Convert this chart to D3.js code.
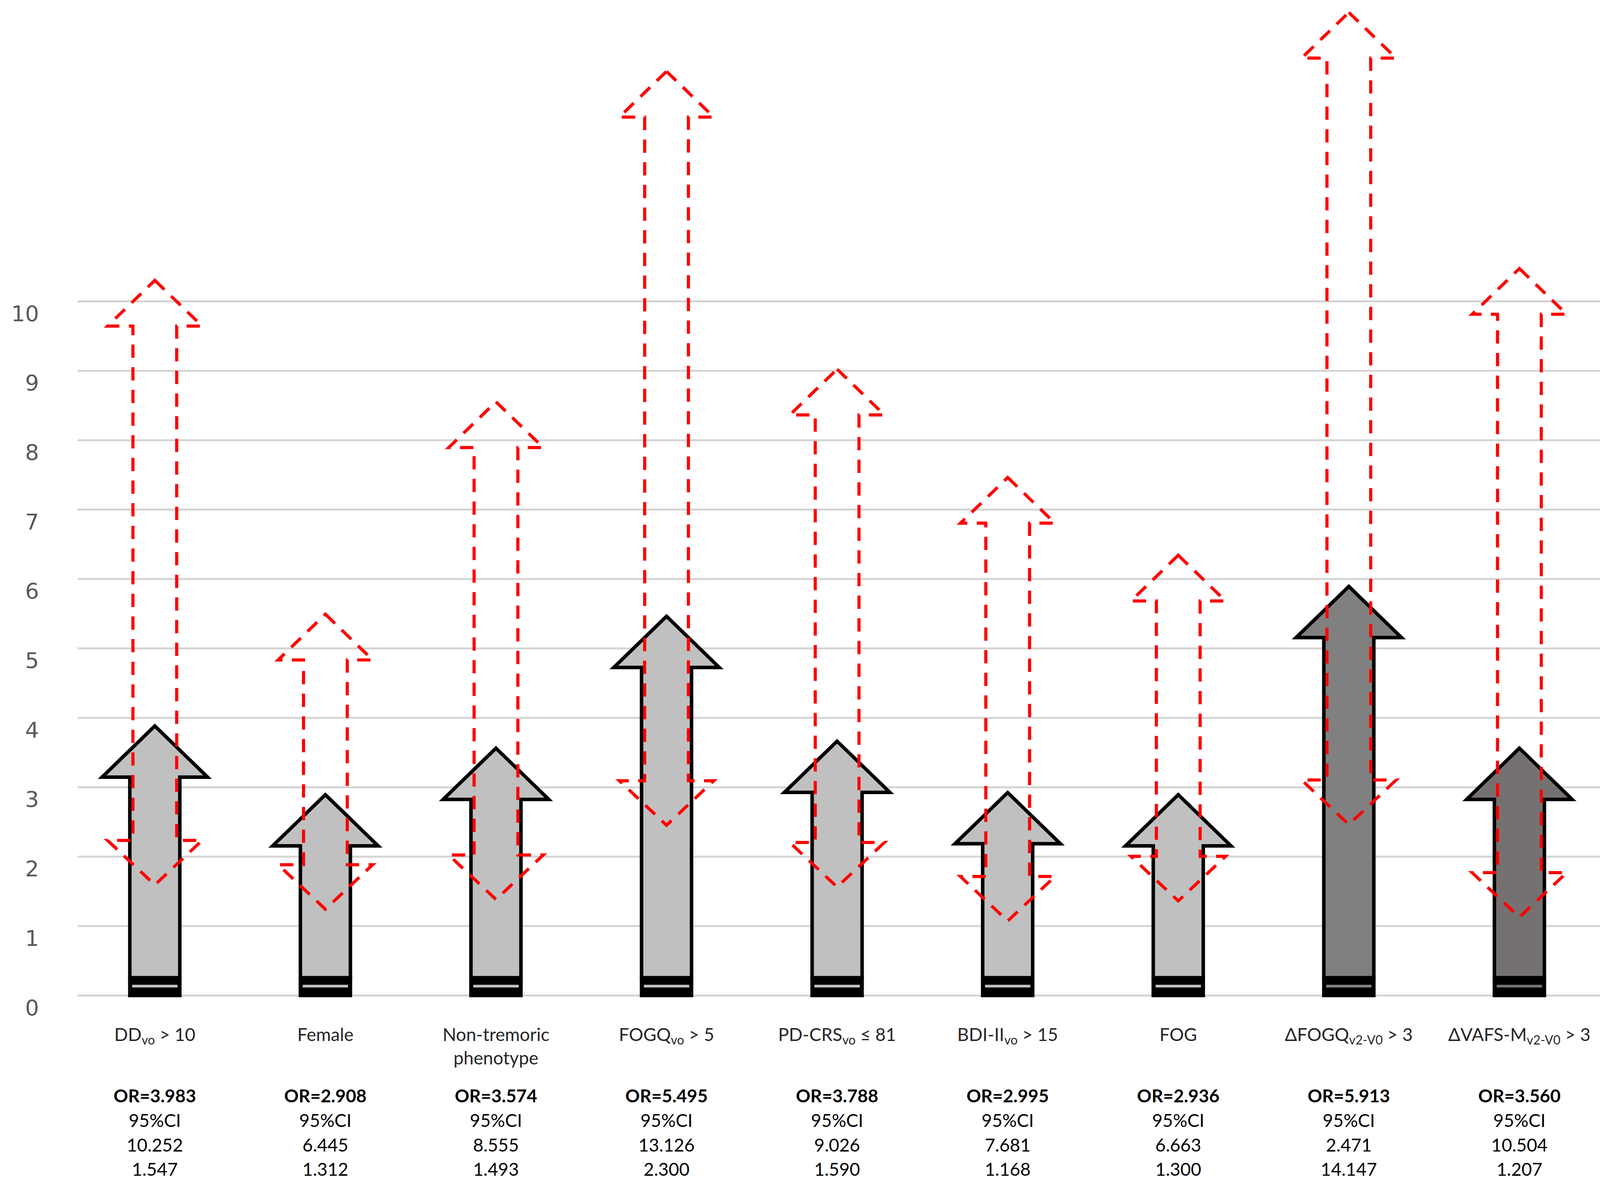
<!DOCTYPE html>
<html>
<head>
<meta charset="utf-8">
<script src="https://cdn.jsdelivr.net/npm/d3@7"></script>
<style>
  html, body { margin: 0; padding: 0; background: #ffffff; }
  svg { display: block; }
  text { white-space: pre; }
</style>
</head>
<body>
<svg id="chart" width="4214" height="3049"></svg>
<script>
// ---------------- data ----------------
const categories = ["DD", "Female", "NonTremoric", "FOGQ", "PDCRS", "BDI", "FOG", "dFOGQ", "dVAFS"];

// category labels: lines of [text, isSubscript]
const categoryLabels = [
  [[["DD", 0], ["vo", 1], [" > 10", 0]]],
  [[["Female", 0]]],
  [[["Non-tremoric", 0]], [["phenotype", 0]]],
  [[["FOGQ", 0], ["vo", 1], [" > 5", 0]]],
  [[["PD-CRS", 0], ["vo", 1], [" ≤ 81", 0]]],
  [[["BDI-II", 0], ["vo", 1], [" > 15", 0]]],
  [[["FOG", 0]]],
  [[["ΔFOGQ", 0], ["v2-V0", 1], [" > 3", 0]]],
  [[["ΔVAFS-M", 0], ["v2-V0", 1], [" > 3", 0]]]
];

// text block under each category
const orText   = ["OR=3.983", "OR=2.908", "OR=3.574", "OR=5.495", "OR=3.788", "OR=2.995", "OR=2.936", "OR=5.913", "OR=3.560"];
const ciText   = ["95%CI", "95%CI", "95%CI", "95%CI", "95%CI", "95%CI", "95%CI", "95%CI", "95%CI"];
const ciLine1  = ["10.252", "6.445", "8.555", "13.126", "9.026", "7.681", "6.663", "2.471", "10.504"];
const ciLine2  = ["1.547", "1.312", "1.493", "2.300", "1.590", "1.168", "1.300", "14.147", "1.207"];

// values as drawn in the figure
const orArrowTop  = [3.88, 2.89, 3.56, 5.46, 3.66, 2.92, 2.89, 5.89, 3.56];
const ciArrowTop  = [10.30, 5.49, 8.55, 13.31, 9.02, 7.46, 6.34, 14.16, 10.47];
const ciArrowBase = [1.59, 1.24, 1.38, 2.45, 1.56, 1.07, 1.36, 2.46, 1.125];

const arrowFills = ["#c0c0c0", "#c0c0c0", "#c0c0c0", "#c0c0c0", "#c0c0c0", "#c0c0c0", "#c0c0c0", "#808080", "#767171"];

const yTicks = [0, 1, 2, 3, 4, 5, 6, 7, 8, 9, 10];

// ---------------- layout ----------------
const svg = d3.select("#chart");
const W = 4214, H = 3049;
svg.append("rect").attr("width", W).attr("height", H).attr("fill", "#ffffff");

const gridLeft = 199, gridRight = 4187;
const y = d3.scaleLinear().domain([0, 10]).range([2548, 771]);
const x = d3.scaleBand().domain(categories).range([178, 4108]).paddingInner(0).paddingOuter(0);
const cx = c => x(c) + x.bandwidth() / 2;

const fontText = "Lato, 'Open Sans', 'Noto Sans', sans-serif";

// gridlines
const grid = svg.append("g")
  .attr("transform", `translate(${gridLeft},0)`)
  .call(d3.axisRight(y).tickValues(yTicks).tickSize(gridRight - gridLeft).tickFormat(""));
grid.select(".domain").remove();
grid.selectAll(".tick line").attr("stroke", "#d4d4d4").attr("stroke-width", 5);

// y labels
const yAxis = svg.append("g")
  .attr("transform", "translate(100,0)")
  .call(d3.axisLeft(y).tickValues(yTicks).tickSize(0).tickPadding(0).tickFormat(d3.format("d")));
yAxis.select(".domain").remove();
yAxis.selectAll(".tick text")
  .attr("dy", 50)
  .attr("font-family", "'DejaVu Sans', Verdana, sans-serif")
  .attr("font-size", 56)
  .attr("fill", "#595959");

const line = d3.line();

// solid OR arrows
const sHW = 64, sHeadHW = 135, sHeadH = 131, baseGap = 45;
const solid = svg.append("g");
categories.forEach((c, i) => {
  const cxv = cx(c), ty = y(orArrowTop[i]), by = y(0) - baseGap;
  const pts = [
    [cxv, ty], [cxv + sHeadHW, ty + sHeadH], [cxv + sHW, ty + sHeadH], [cxv + sHW, by],
    [cxv - sHW, by], [cxv - sHW, ty + sHeadH], [cxv - sHeadHW, ty + sHeadH]
  ];
  solid.append("path")
    .attr("d", line(pts) + "Z")
    .attr("fill", arrowFills[i])
    .attr("stroke", "#000000")
    .attr("stroke-width", 9)
    .attr("stroke-linejoin", "miter")
    .attr("stroke-miterlimit", 10);
  // base block
  solid.append("rect")
    .attr("x", cxv - sHW - 4.5).attr("y", by - 3)
    .attr("width", 2 * sHW + 9).attr("height", y(0) + 5 - (by - 3))
    .attr("fill", "#000000");
  solid.append("rect")
    .attr("x", cxv - sHW + 6).attr("y", y(0) - 27)
    .attr("width", 2 * sHW - 12).attr("height", 7)
    .attr("fill", arrowFills[i]);
});

// dashed CI arrows
const dHW = 56, dHeadHW = 121, dHeadH = 117, dTailH = 114;
const dashed = svg.append("g");
categories.forEach((c, i) => {
  const cxv = cx(c), ty = y(ciArrowTop[i]), bp = y(ciArrowBase[i]), yb = bp - dTailH;
  const pts = [
    [cxv, ty], [cxv + dHeadHW, ty + dHeadH], [cxv + dHW, ty + dHeadH], [cxv + dHW, yb],
    [cxv + dHeadHW, yb], [cxv, bp], [cxv - dHeadHW, yb], [cxv - dHW, yb],
    [cxv - dHW, ty + dHeadH], [cxv - dHeadHW, ty + dHeadH]
  ];
  dashed.append("path")
    .attr("d", line(pts) + "Z")
    .attr("fill", "none")
    .attr("stroke", "#ff0000")
    .attr("stroke-width", 8)
    .attr("stroke-dasharray", "34,24")
    .attr("stroke-linejoin", "miter");
});

// category labels
const labels = svg.append("g")
  .attr("font-family", fontText)
  .attr("font-size", 46)
  .attr("fill", "#262626");
categories.forEach((c, i) => {
  categoryLabels[i].forEach((ln, li) => {
    const t = labels.append("text")
      .attr("x", cx(c))
      .attr("y", y(0) + 117 + li * 60)
      .attr("text-anchor", "middle");
    let shifted = false;
    ln.forEach(([s, sub]) => {
      const ts = t.append("tspan").text(s);
      if (sub) {
        ts.attr("font-size", 32);
        if (!shifted) { ts.attr("dy", 9); shifted = true; }
      } else if (shifted) {
        ts.attr("dy", -9); shifted = false;
      }
    });
  });
});

// OR / CI text block
const block = svg.append("g")
  .attr("font-family", fontText)
  .attr("font-size", 46)
  .attr("fill", "#000000")
  .attr("text-anchor", "middle");
categories.forEach((c, i) => {
  const base = y(0) + 274;
  block.append("text").attr("x", cx(c)).attr("y", base).attr("font-weight", "bold").text(orText[i]);
  block.append("text").attr("x", cx(c)).attr("y", base + 63).text(ciText[i]);
  block.append("text").attr("x", cx(c)).attr("y", base + 126).text(ciLine1[i]);
  block.append("text").attr("x", cx(c)).attr("y", base + 188).text(ciLine2[i]);
});
</script>
</body>
</html>
